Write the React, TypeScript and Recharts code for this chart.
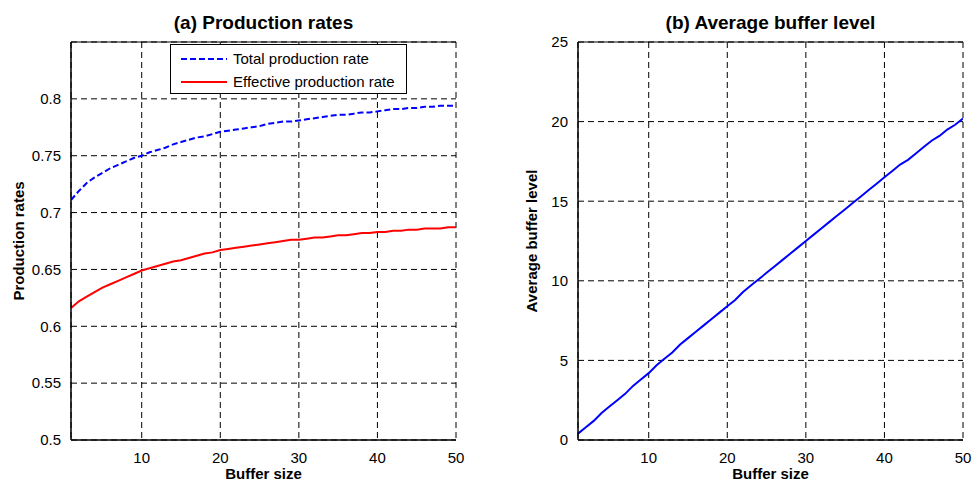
import React from "react";
import {
  LineChart,
  Line,
  XAxis,
  YAxis,
  CartesianGrid,
  Label,
} from "recharts";

// Buffer sizes on the x axis
const bufferSizes = [
  1, 2, 3, 4, 5, 6, 7, 8, 9, 10, 11, 12, 13, 14, 15, 16, 17, 18, 19, 20, 21, 22, 23, 24, 25,
  26, 27, 28, 29, 30, 31, 32, 33, 34, 35, 36, 37, 38, 39, 40, 41, 42, 43, 44, 45, 46, 47, 48,
  49, 50,
];

// (a) production rates
const totalRate = [
  0.711, 0.719, 0.726, 0.731, 0.735, 0.739, 0.742, 0.745, 0.748, 0.75, 0.753, 0.755, 0.757,
  0.76, 0.762, 0.764, 0.766, 0.767, 0.769, 0.771, 0.772, 0.773, 0.774, 0.775, 0.776, 0.778,
  0.779, 0.78, 0.78, 0.781, 0.782, 0.783, 0.784, 0.785, 0.786, 0.786, 0.787, 0.788, 0.788,
  0.789, 0.79, 0.791, 0.791, 0.792, 0.792, 0.793, 0.793, 0.794, 0.794, 0.794,
];
const effectiveRate = [
  0.616, 0.622, 0.626, 0.63, 0.634, 0.637, 0.64, 0.643, 0.646, 0.649, 0.651, 0.653, 0.655,
  0.657, 0.658, 0.66, 0.662, 0.664, 0.665, 0.667, 0.668, 0.669, 0.67, 0.671, 0.672, 0.673,
  0.674, 0.675, 0.676, 0.676, 0.677, 0.678, 0.678, 0.679, 0.68, 0.68, 0.681, 0.682, 0.682,
  0.683, 0.683, 0.684, 0.684, 0.685, 0.685, 0.686, 0.686, 0.686, 0.687, 0.687,
];

// (b) average buffer level
const avgBuffer = [
  0.4, 0.8, 1.2, 1.7, 2.1, 2.5, 2.9, 3.4, 3.8, 4.2, 4.7, 5.1, 5.5, 6.0, 6.4, 6.8, 7.2, 7.6,
  8.0, 8.4, 8.8, 9.3, 9.7, 10.1, 10.5, 10.9, 11.3, 11.7, 12.1, 12.5, 12.9, 13.3, 13.7, 14.1,
  14.5, 14.9, 15.3, 15.7, 16.1, 16.5, 16.9, 17.3, 17.6, 18.0, 18.4, 18.8, 19.1, 19.5, 19.8,
  20.2,
];

const xTicks = [10, 20, 30, 40, 50];
const rateTicks = [0.5, 0.55, 0.6, 0.65, 0.7, 0.75, 0.8];
const bufferTicks = [0, 5, 10, 15, 20, 25];

const FONT = '"Liberation Sans", Arial, Helvetica, sans-serif';
const tickStyle = { fontSize: 15, fill: "#000", fontFamily: FONT };

const rateData = bufferSizes.map((b, i) => ({ b, total: totalRate[i], effective: effectiveRate[i] }));
const bufferData = bufferSizes.map((b, i) => ({ b, level: avgBuffer[i] }));

// label helpers working from the axis viewBox
const titleLabel = (text: string) => (props: any) => {
  const { x, width } = props.viewBox;
  return (
    <text x={x + width / 2} y={29} textAnchor="middle" fontFamily={FONT} fontSize={19} fontWeight="bold" fill="#000">
      {text}
    </text>
  );
};

const xLabel = (text: string) => (props: any) => {
  const { x, width } = props.viewBox;
  return (
    <text x={x + width / 2} y={479} textAnchor="middle" fontFamily={FONT} fontSize={15} fontWeight="bold" fill="#000">
      {text}
    </text>
  );
};

const yLabel = (text: string, cx: number) => (props: any) => {
  const { y, height } = props.viewBox;
  const cy = y + height / 2;
  return (
    <text
      x={cx}
      y={cy}
      transform={`rotate(-90 ${cx} ${cy})`}
      textAnchor="middle"
      fontFamily={FONT}
      fontSize={15}
      fontWeight="bold"
      fill="#000"
    >
      {text}
    </text>
  );
};

function RateLegend() {
  const row = (dash: string | undefined, color: string, text: string) => (
    <div style={{ display: "flex", alignItems: "center", height: 23 }}>
      <svg width={54} height={10} style={{ marginLeft: 8 }}>
        <line x1={2} y1={5} x2={48} y2={5} stroke={color} strokeWidth={2} strokeDasharray={dash} />
      </svg>
      <span style={{ fontFamily: FONT, fontSize: 15, color: "#000" }}>{text}</span>
    </div>
  );
  return (
    <div
      style={{
        position: "absolute",
        left: 170,
        top: 44,
        border: "1px solid #000",
        background: "#fff",
        width: 237,
        height: 50,
        boxSizing: "border-box",
        paddingTop: 2,
      }}
    >
      {row("6 3", "#0000ff", "Total production rate")}
      {row(undefined, "#ff0000", "Effective production rate")}
    </div>
  );
}

export default function App() {
  return (
    <div style={{ position: "absolute", left: 0, top: 0, width: 973, height: 482, background: "#fff" }}>
      <div style={{ position: "absolute", left: 0, top: 0 }}>
        <LineChart width={480} height={482} data={rateData} margin={{ top: 0, right: 24, left: 0, bottom: 0 }}>
          <CartesianGrid stroke="#000" strokeDasharray="6 4" />
          <XAxis
            dataKey="b"
            type="number"
            domain={[1, 50]}
            ticks={xTicks}
            tick={tickStyle}
            tickLine={false}
            axisLine={{ stroke: "#000", strokeWidth: 1.5 }}
            height={42}
            tickMargin={6}
            allowDataOverflow
          >
            <Label content={xLabel("Buffer size")} />
          </XAxis>
          <XAxis
            xAxisId="top"
            orientation="top"
            dataKey="b"
            type="number"
            domain={[1, 50]}
            tick={false}
            tickLine={false}
            axisLine={{ stroke: "#000", strokeWidth: 1 }}
            height={42}
          >
            <Label content={titleLabel("(a) Production rates")} />
          </XAxis>
          <YAxis
            type="number"
            domain={[0.5, 0.85]}
            ticks={rateTicks}
            tick={tickStyle}
            tickLine={false}
            axisLine={{ stroke: "#000", strokeWidth: 1.5 }}
            width={71}
            tickMargin={4}
            tickFormatter={(v) => String(v)}
            allowDataOverflow
          >
            <Label content={yLabel("Production rates", 24)} />
          </YAxis>
          <YAxis
            yAxisId="right"
            orientation="right"
            type="number"
            domain={[0.5, 0.85]}
            tick={false}
            tickLine={false}
            axisLine={{ stroke: "#000", strokeWidth: 1.5 }}
            width={0}
          />
          <Line
            dataKey="total"
            stroke="#0000ff"
            strokeWidth={2}
            strokeDasharray="6 3"
            dot={false}
            type="linear"
            isAnimationActive={false}
          />
          <Line
            dataKey="effective"
            stroke="#ff0000"
            strokeWidth={2}
            dot={false}
            type="linear"
            isAnimationActive={false}
          />
        </LineChart>
        <RateLegend />
      </div>
      <div style={{ position: "absolute", left: 490, top: 0 }}>
        <LineChart width={483} height={482} data={bufferData} margin={{ top: 0, right: 10, left: 0, bottom: 0 }}>
          <CartesianGrid stroke="#000" strokeDasharray="6 4" />
          <XAxis
            dataKey="b"
            type="number"
            domain={[1, 50]}
            ticks={xTicks}
            tick={tickStyle}
            tickLine={false}
            axisLine={{ stroke: "#000", strokeWidth: 1.5 }}
            height={42}
            tickMargin={6}
            allowDataOverflow
          >
            <Label content={xLabel("Buffer size")} />
          </XAxis>
          <XAxis
            xAxisId="top"
            orientation="top"
            dataKey="b"
            type="number"
            domain={[1, 50]}
            tick={false}
            tickLine={false}
            axisLine={{ stroke: "#000", strokeWidth: 1 }}
            height={42}
          >
            <Label content={titleLabel("(b) Average buffer level")} />
          </XAxis>
          <YAxis
            type="number"
            domain={[0, 25]}
            ticks={bufferTicks}
            tick={tickStyle}
            tickLine={false}
            axisLine={{ stroke: "#000", strokeWidth: 1.5 }}
            width={88}
            tickMargin={4}
            allowDataOverflow
          >
            <Label content={yLabel("Average buffer level", 47)} />
          </YAxis>
          <YAxis
            yAxisId="right"
            orientation="right"
            type="number"
            domain={[0, 25]}
            tick={false}
            tickLine={false}
            axisLine={{ stroke: "#000", strokeWidth: 1.5 }}
            width={0}
          />
          <Line
            dataKey="level"
            stroke="#0000ff"
            strokeWidth={2}
            dot={false}
            type="linear"
            isAnimationActive={false}
          />
        </LineChart>
      </div>
    </div>
  );
}
